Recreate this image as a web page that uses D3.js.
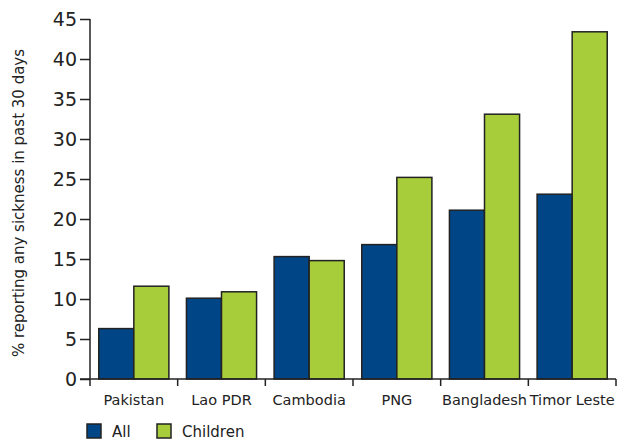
<!DOCTYPE html>
<html><head><meta charset="utf-8">
<script src="https://cdn.jsdelivr.net/npm/d3@7"></script>
<style>body{margin:0;background:#fff}svg{display:block}text{font-family:"DejaVu Sans",sans-serif;fill:#222}</style>
</head><body>
<svg id="c" width="619" height="440"></svg>
<script>
const categories = ["Pakistan","Lao PDR","Cambodia","PNG","Bangladesh","Timor Leste"];
const seriesNames = ["All","Children"];
const allValues = [6.3, 10.1, 15.3, 16.8, 21.1, 23.1];
const childrenValues = [11.6, 10.9, 14.8, 25.2, 33.1, 43.4];
const yTicks = [0,5,10,15,20,25,30,35,40,45];
const colors = ["#004586","#a7ce3a"];

const svg = d3.select("#c");
const x0 = 90, x1 = 616, yTop = 19, yBot = 379;
const x = d3.scaleBand().domain(categories).range([x0,x1]).paddingInner(0.2).paddingOuter(0.1);
const xs = d3.scaleBand().domain(seriesNames).range([0,x.bandwidth()]);
const y = d3.scaleLinear().domain([0,45]).range([yBot,yTop]);

// bars
const data = categories.map((c,i)=>({c, v:[allValues[i], childrenValues[i]]}));
const g = svg.append("g");
data.forEach(d=>{
  d.v.forEach((v,j)=>{
    g.append("rect")
      .attr("x", x(d.c)+xs(seriesNames[j]))
      .attr("y", y(v))
      .attr("width", xs.bandwidth())
      .attr("height", yBot - y(v))
      .attr("fill", colors[j])
      .attr("stroke","#222").attr("stroke-width",1.5);
  });
});

// y axis
const ya = svg.append("g").attr("transform",`translate(${x0},0)`)
  .call(d3.axisLeft(y).tickValues(yTicks).tickSize(10).tickPadding(3));
ya.selectAll("path,line").attr("stroke","#222").attr("stroke-width",1.5);
ya.select(".domain").attr("d",`M0,${yTop}V${yBot}`);
ya.selectAll("text").style("font-size","19px").style("font-family","'DejaVu Sans',sans-serif").attr("fill","#222");

// x axis
const xa = svg.append("g").attr("transform",`translate(0,${yBot})`);
xa.append("line").attr("x1",x0-10).attr("x2",x1).attr("y1",0).attr("y2",0).attr("stroke","#222").attr("stroke-width",1.5);
const step = x.step();
const bounds = d3.range(categories.length+1).map(i=> x0 + i*step);
xa.selectAll(".tk").data(bounds).enter().append("line")
  .attr("x1",d=>d).attr("x2",d=>d).attr("y1",0).attr("y2",7)
  .attr("stroke","#222").attr("stroke-width",1.5);
xa.selectAll(".lb").data(categories).enter().append("text")
  .attr("x",d=>x(d)+x.bandwidth()/2).attr("y",26)
  .attr("text-anchor","middle").style("font-size","14.5px").text(d=>d);

// y title
svg.append("text").attr("transform",`translate(24,203) rotate(-90)`)
  .attr("text-anchor","middle").style("font-size","15px")
  .text("% reporting any sickness in past 30 days");

// legend
const lg = svg.append("g").attr("transform","translate(87,424)");
const lx = [0, 70];
seriesNames.forEach((s,i)=>{
  lg.append("rect").attr("x",lx[i]).attr("y",0).attr("width",14).attr("height",14)
    .attr("fill",colors[i]).attr("stroke","#222").attr("stroke-width",1.5);
  lg.append("text").attr("x",lx[i]+25).attr("y",12.5).style("font-size","15px").text(s);
});
</script>
</body></html>
